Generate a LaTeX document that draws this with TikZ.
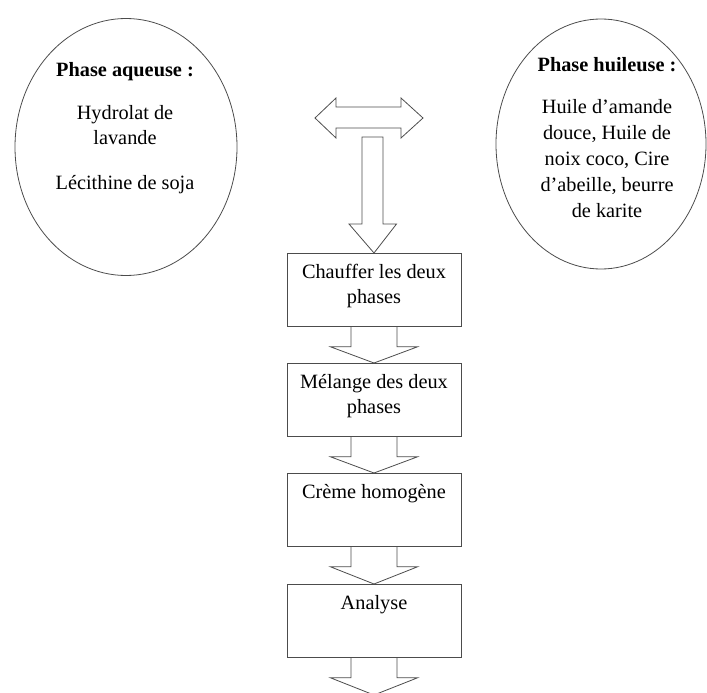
\documentclass[tikz,border=0pt]{standalone}
\usepackage{fontspec}
\setmainfont{Liberation Serif}
\usetikzlibrary{shapes.geometric,calc}

\begin{document}
\begin{tikzpicture}[x=1pt,y=-1pt,
		trait/.style={draw=black!70, line width=0.8pt},
		etape/.style={trait, shape=rectangle, minimum width=174pt, minimum height=73pt, inner sep=0, anchor=north},
		bulle/.style={trait, shape=ellipse, inner sep=0},
		texte/.style={font=\fontsize{20.3}{25}\selectfont, align=center, inner sep=2pt, anchor=north}]
	\clip (0,0) rectangle (707,693);
	% les deux phases
	\node[bulle, minimum width=222pt, minimum height=257pt] (aq) at (126,147) {};
	\node[texte] (aqtxt) at (125,60) {\textbf{Phase aqueuse :}\\[18pt] Hydrolat de\\lavande\\[20pt] Lécithine de soja};
	\node[bulle, minimum width=210pt, minimum height=250pt] (hu) at (601,144) {};
	\node[texte, font=\fontsize{20.3}{26}\selectfont] (hutxt) at (607,55) {\textbf{Phase huileuse :}\\[16pt] Huile d’amande\\douce, Huile de\\noix coco, Cire\\d’abeille, beurre\\de karite};
	% double fleche
	\coordinate (gauche) at (315,118);
	\coordinate (droite) at (423,118);
	\draw[trait] (gauche) -- ++(21,-20) -- ++(0,9) -- ($(droite)+(-22,-11)$) -- ++(0,-9) -- (droite)
		-- ++(-22,20) -- ++(0,-10) -- ($(gauche)+(21,10)$) -- ++(0,10) -- cycle;
	% etapes
	\foreach \i/\y/\txt in {1/253/{Chauffer les deux\\phases},2/363/{Mélange des deux\\phases},3/473/{Crème homogène},4/584/{Analyse}}
	{
		\node[etape] (b\i) at (374,\y) {};
		\node[texte] (t\i) at ([yshift=-9pt]b\i.north) {\txt};
	}
	\coordinate (haut) at (372.5,137);
	\coordinate (fin) at (374,695);
	\draw[trait] ($(haut)+(-10.5,0)$) -- ++(0,87) -- ++(-13,0) -- (b1.north)
		-- ($(haut)+(24,87)$) -- ++(-13.5,0) -- ($(haut)+(10.5,0)$) -- cycle;
	\foreach \i/\j in {b1/b2.north,b2/b3.north,b3/b4.north,b4/fin}
	{
		\draw[trait] ($(\i.south)+(-23,0)$) -- ++(0,20) -- ++(-20.5,0) -- (\j)
			-- ($(\i.south)+(43.5,20)$) -- ++(-20.5,0) -- ($(\i.south)+(23,0)$);
	}
\end{tikzpicture}
\end{document}
